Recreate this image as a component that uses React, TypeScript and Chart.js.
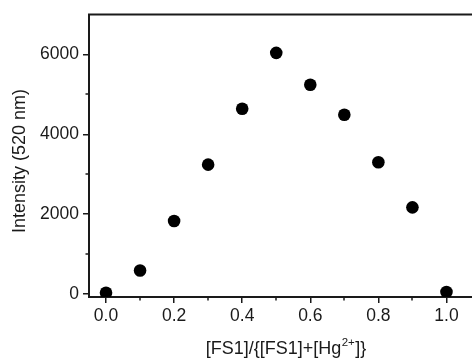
import { useEffect, useRef } from 'react';
import { Chart, registerables } from 'chart.js';

Chart.register(...registerables);

const ratios = [0.0, 0.1, 0.2, 0.3, 0.4, 0.5, 0.6, 0.7, 0.8, 0.9, 1.0];
const intensities = [30, 590, 1830, 3240, 4640, 6040, 5240, 4490, 3300, 2170, 50];
const xTickValues = [0, 0.2, 0.4, 0.6, 0.8, 1.0];
const xMinorTicks = [0.1, 0.3, 0.5, 0.7, 0.9];
const yTickValues = [0, 2000, 4000, 6000];
const yMinorTicks = [1000, 3000, 5000];
const yTitle = 'Intensity (520 nm)';
const xTitleMain = '[FS1]/{[FS1]+[Hg';
const xTitleSup = '2+';
const xTitleEnd = ']}';

const FONT = '"Liberation Sans", Arial, sans-serif';
const INK = '#1a1a1a';

const decorPlugin = {
  id: 'decor',
  afterDraw(chart: any) {
    const { ctx, chartArea, scales } = chart;
    const xs = scales.x;
    const ys = scales.y;
    ctx.save();
    ctx.strokeStyle = INK;
    ctx.lineWidth = 2;
    // top border
    ctx.beginPath();
    ctx.moveTo(chartArea.left - 1, chartArea.top);
    ctx.lineTo(chart.width, chartArea.top);
    ctx.stroke();
    // minor ticks
    ctx.lineWidth = 1.5;
    for (const v of yMinorTicks) {
      const py = Math.round(ys.getPixelForValue(v));
      ctx.beginPath();
      ctx.moveTo(chartArea.left, py);
      ctx.lineTo(chartArea.left - 3.5, py);
      ctx.stroke();
    }
    for (const v of xMinorTicks) {
      const px = Math.round(xs.getPixelForValue(v));
      ctx.beginPath();
      ctx.moveTo(px, chartArea.bottom);
      ctx.lineTo(px, chartArea.bottom + 3.5);
      ctx.stroke();
    }
    // y title
    ctx.fillStyle = INK;
    ctx.font = `18px ${FONT}`;
    ctx.textAlign = 'center';
    ctx.textBaseline = 'middle';
    ctx.save();
    ctx.translate(20, 161);
    ctx.rotate(-Math.PI / 2);
    ctx.fillText(yTitle, 0, 0);
    ctx.restore();
    // x title with superscript
    const mainFont = `18px ${FONT}`;
    const supFont = `11.5px ${FONT}`;
    ctx.textBaseline = 'alphabetic';
    ctx.textAlign = 'left';
    ctx.font = mainFont;
    const w1 = ctx.measureText(xTitleMain).width;
    const w3 = ctx.measureText(xTitleEnd).width;
    ctx.font = supFont;
    const w2 = ctx.measureText(xTitleSup).width;
    const total = w1 + w2 + w3 + 1;
    let x0 = 286 - total / 2;
    const base = 354;
    ctx.font = mainFont;
    ctx.fillText(xTitleMain, x0, base);
    x0 += w1 + 0.5;
    ctx.font = supFont;
    ctx.fillText(xTitleSup, x0, base - 8.5);
    x0 += w2 + 0.5;
    ctx.font = mainFont;
    ctx.fillText(xTitleEnd, x0, base);
    ctx.restore();
  },
};

export default function App() {
  const ref = useRef<HTMLCanvasElement | null>(null);
  useEffect(() => {
    document.body.style.margin = '0';
    const canvas = ref.current;
    if (!canvas) return;
    const chart = new Chart(canvas, {
      type: 'scatter',
      data: {
        datasets: [
          {
            data: ratios.map((r, i) => ({ x: r, y: intensities[i] })),
            backgroundColor: '#000',
            borderColor: '#000',
            borderWidth: 0,
            pointRadius: 6.3,
            pointHoverRadius: 6.3,
            showLine: false,
          },
        ],
      },
      options: {
        animation: false,
        responsive: false,
        maintainAspectRatio: false,
        layout: { autoPadding: false, padding: { top: 11, right: 0, left: 0, bottom: 0 } },
        plugins: { legend: { display: false }, tooltip: { enabled: false } },
        scales: {
          x: {
            type: 'linear',
            min: -0.05,
            max: 1.075,
            afterBuildTicks: (scale: any) => {
              scale.ticks = xTickValues.map((v) => ({ value: v }));
            },
            afterFit: (scale: any) => {
              scale.height = 61;
            },
            grid: { drawOnChartArea: false, drawTicks: true, tickLength: 6, color: INK, lineWidth: 1.5 },
            border: { display: true, color: INK, width: 2 },
            ticks: {
              color: INK,
              font: { family: FONT, size: 17.5 },
              padding: 3,
              maxRotation: 0,
              autoSkip: false,
              callback: (v: any) => Number(v).toFixed(1),
            },
          },
          y: {
            type: 'linear',
            min: -75,
            max: 7000,
            afterBuildTicks: (scale: any) => {
              scale.ticks = yTickValues.map((v) => ({ value: v }));
            },
            afterFit: (scale: any) => {
              scale.width = 89;
            },
            grid: { drawOnChartArea: false, drawTicks: true, tickLength: 6, color: INK, lineWidth: 1.5 },
            border: { display: true, color: INK, width: 2 },
            ticks: {
              color: INK,
              font: { family: FONT, size: 17.5 },
              padding: 4,
              autoSkip: false,
              callback: (v: any) => String(v),
            },
          },
        },
      },
      plugins: [decorPlugin],
    });
    return () => chart.destroy();
  }, []);
  return (
    <div style={{ position: 'fixed', left: 0, top: 0, width: 472, height: 358 }}>
      <canvas ref={ref} width={472} height={358} style={{ width: 472, height: 358, display: 'block' }} />
    </div>
  );
}
